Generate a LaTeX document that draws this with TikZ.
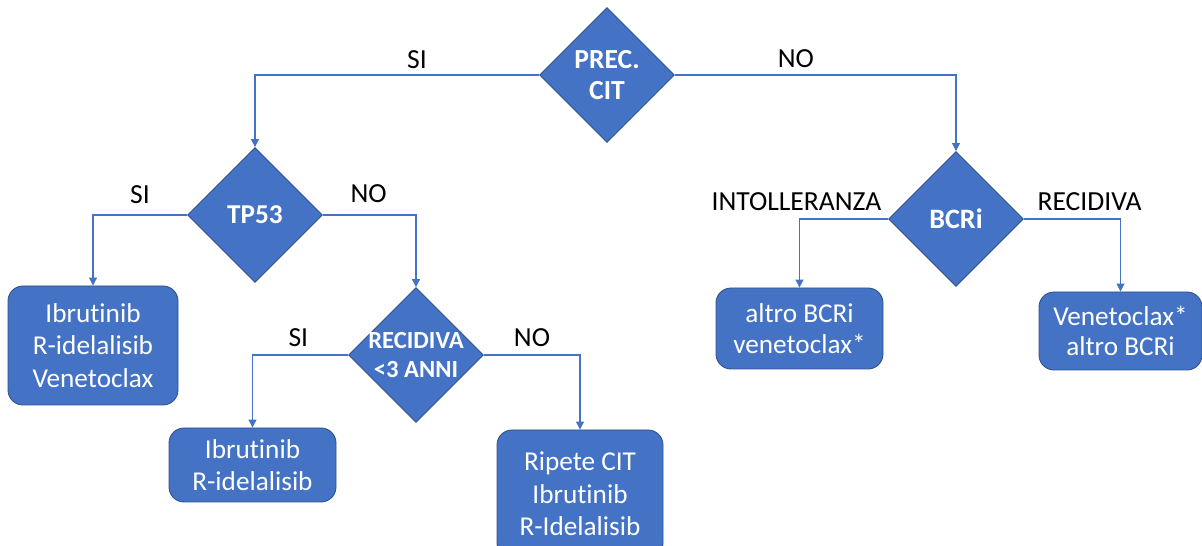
\documentclass[tikz,border=0pt]{standalone}
\usepackage{fontspec}
\setmainfont{Carlito}[Ligatures=NoCommon]
\usetikzlibrary{positioning, arrows.meta, shapes.geometric}

\definecolor{officeblue}{HTML}{4472C4}
\definecolor{edgeblue}{HTML}{2F528F}

\tikzset{
  decision/.style={diamond, shape aspect=1, draw=edgeblue, line width=0.5pt,
    fill=officeblue, text=white, align=center, inner sep=0pt,
    minimum width=2.7cm, minimum height=2.7cm},
  therapy/.style={rectangle, rounded corners=0.3cm, draw=edgeblue,
    line width=0.5pt, fill=officeblue, text=white, align=center, inner sep=0pt,
    font=\fontsize{15.5}{18.4}\selectfont},
  branch/.style={draw=officeblue, line width=0.6pt,
    -{Triangle[length=1.6mm, width=1.6mm]}},
  answer/.style={anchor=south, inner sep=0pt, yshift=0.16cm, text=black,
    font=\fontsize{15.7}{18}\selectfont}
}

\begin{document}
\begin{tikzpicture}
      \useasboundingbox (0,0) rectangle (24.04,10.92);

      % Draw the decision diamonds.
      \node[decision, font=\bfseries\fontsize{15.7}{17.6}\selectfont] (prec) at (12.14,9.42) {PREC.\\CIT};
      \node[decision, font=\bfseries\fontsize{15.5}{17}\selectfont] (tp53) at (5.10,6.62) {TP53};
      \node[decision, inner sep=-3pt, font=\bfseries\fontsize{14}{16}\selectfont] (recid) at (8.32,3.82) {RECIDIVA\\<3 ANNI};
      \node[decision, font=\bfseries\fontsize{16}{18}\selectfont] (bcri) at (19.12,6.54) {BCRi};

      % Draw the therapy boxes.
      \node[therapy, minimum width=3.4cm, minimum height=2.38cm] (ibrRidVen) at (1.86,4.01) {Ibrutinib\\R-idelalisib\\Venetoclax};
      \node[therapy, minimum width=3.34cm, minimum height=1.48cm] (ibrRid) at (5.05,1.62) {Ibrutinib\\R-idelalisib};
      \node[therapy, minimum width=3.32cm, minimum height=2.56cm] (ripete) at (11.6,1.04) {Ripete CIT\\Ibrutinib\\R-Idelalisib};
      \node[therapy, minimum width=3.34cm, minimum height=1.62cm,
        font=\fontsize{15.5}{17.4}\selectfont] (altroVen) at (15.99,4.35) {altro BCRi\\venetoclax*};
      \node[therapy, minimum width=3.26cm, minimum height=1.56cm,
        font=\fontsize{15.5}{17.4}\selectfont] (venAltro) at (22.41,4.30) {Venetoclax*\\altro BCRi};

      % Draw the branches with their answers.
      \draw[branch] (prec.west) -| node[answer, pos=0.215, yshift=-0.05cm] (precSi) {SI} (tp53);
      \draw[branch] (prec.east) -| node[answer, pos=0.215, yshift=-0.03cm] (precNo) {NO} (bcri);
      \draw[branch] (tp53.west) -| node[answer, pos=0.25, yshift=0.05cm] (tp53Si) {SI} (ibrRidVen);
      \draw[branch] (tp53.east) -| node[answer, pos=0.245, yshift=0.07cm] (tp53No) {NO} (recid);
      \draw[branch] (recid.west) -| node[answer, pos=0.26] (recidSi) {SI} (ibrRid);
      \draw[branch] (recid.east) -| node[answer, pos=0.25] (recidNo) {NO} (ripete);
      \draw[branch] (bcri.west) -| node[answer, pos=0.5, xshift=-0.06cm] (bcriInt) {INTOLLERANZA} (altroVen);
      \draw[branch] (bcri.east) -| node[answer, pos=0.34] (bcriRec) {RECIDIVA} (venAltro);
\end{tikzpicture}
\end{document}
